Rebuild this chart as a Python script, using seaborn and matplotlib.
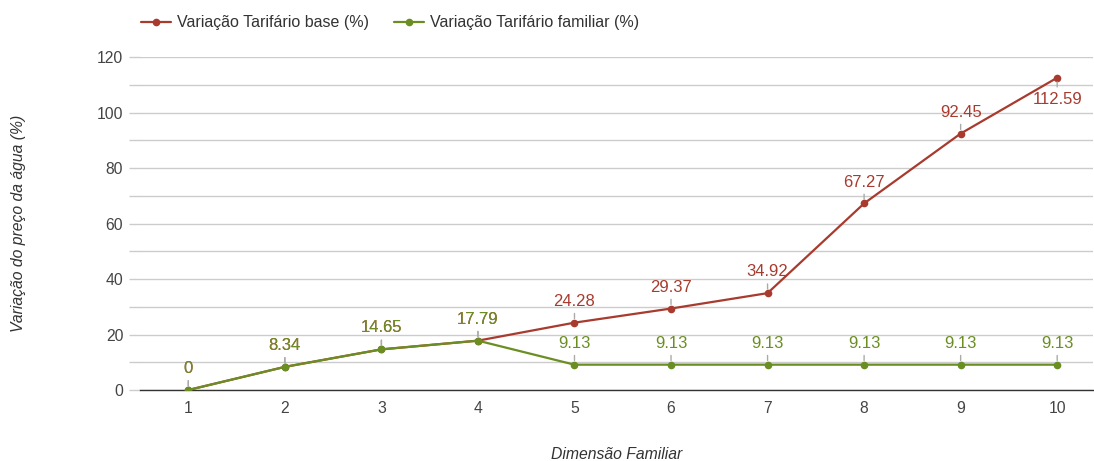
import matplotlib
matplotlib.use("Agg")
import matplotlib.pyplot as plt
import seaborn as sns
import pandas as pd

dimensao = [1, 2, 3, 4, 5, 6, 7, 8, 9, 10]
base = [0, 8.34, 14.65, 17.79, 24.28, 29.37, 34.92, 67.27, 92.45, 112.59]
familiar = [0, 8.34, 14.65, 17.79, 9.13, 9.13, 9.13, 9.13, 9.13, 9.13]
serie_base = "Variação Tarifário base (%)"
serie_fam = "Variação Tarifário familiar (%)"
y_ticks = [0, 20, 40, 60, 80, 100, 120]

sns.set_theme(style="white")
plt.rcParams["font.family"] = ["Liberation Sans", "DejaVu Sans"]

df = pd.DataFrame({
    "Dimensão": dimensao * 2,
    "Valor": base + familiar,
    "Série": [serie_base] * len(base) + [serie_fam] * len(familiar),
})

RED = "#a83a2e"
GREEN = "#6b8e23"

fig = plt.figure(figsize=(10.94, 4.61), dpi=100)
ax = fig.add_axes([0.128, 0.154, 0.871, 0.722])

sns.lineplot(data=df, x="Dimensão", y="Valor", hue="Série",
             palette={serie_base: RED, serie_fam: GREEN},
             marker="o", markersize=5.5, markeredgewidth=0, linewidth=1.6,
             ax=ax, legend=True, zorder=3)

ax.set_xlim(0.5, 10.37)
ax.set_ylim(0, 120)
ax.set_yticks(range(0, 121, 10))
ax.set_yticklabels([str(v) if v in y_ticks else "" for v in range(0, 121, 10)])
ax.set_xticks(dimensao)
ax.grid(axis="y", color="#cccccc", linewidth=1)
ax.grid(axis="x", visible=False)
for s in ["top", "right", "left"]:
    ax.spines[s].set_visible(False)
ax.spines["bottom"].set_color("#333333")
ax.spines["bottom"].set_linewidth(1)
ax.tick_params(axis="y", length=8, color="#cccccc", width=1, labelsize=11.3,
               labelcolor="#444444", pad=4, left=True)
ax.tick_params(axis="x", length=0, labelsize=11.3, labelcolor="#444444", pad=8)

ax.set_xlabel("Dimensão Familiar", fontstyle="italic", fontsize=11.3,
              color="#333333", labelpad=22)
ax.set_ylabel("Variação do preço da água (%)", fontstyle="italic", fontsize=11.3,
              color="#333333")
ax.yaxis.set_label_coords(-0.12, 0.5)

def label(xs, ys, color):
    for x, y in zip(xs, ys):
        txt = f"{y:g}"
        if y > 105:
            off, va = -10, "top"
        else:
            off, va = 10, "bottom"
        ax.annotate(txt, xy=(x, y), xytext=(0, off), textcoords="offset points",
                    ha="center", va=va, fontsize=12, color=color, zorder=5,
                    arrowprops=dict(arrowstyle="-", color="#aaaaaa", lw=1,
                                    shrinkA=1, shrinkB=3))

label(dimensao, base, RED)
label(dimensao, familiar, GREEN)

leg = ax.legend(loc="upper left", bbox_to_anchor=(0.115, 1.0),
                bbox_transform=fig.transFigure, ncol=2, frameon=False,
                fontsize=11.5, handlelength=1.85, handletextpad=0.4,
                columnspacing=1.6, borderaxespad=0.55)
for t in leg.get_texts():
    t.set_color("#333333")

fig.savefig("out.png", dpi=100)
